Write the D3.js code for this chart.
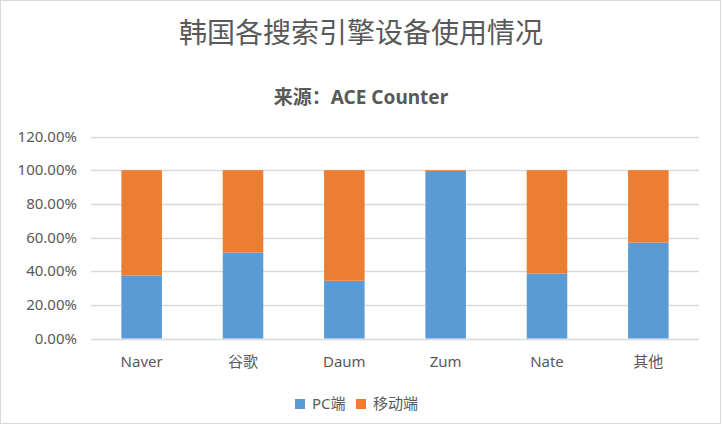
<!DOCTYPE html>
<html>
<head>
<meta charset="utf-8">
<script src="https://cdn.jsdelivr.net/npm/d3@7"></script>
<style>
  body { margin: 0; background: #fff; }
  text { font-family: "Noto Sans", "Noto Sans CJK SC", sans-serif; }
</style>
</head>
<body>
<script>
// data
let categories = ["Naver", "谷歌", "Daum", "Zum", "Nate", "其他"];
let pcValues = [0.374, 0.510, 0.343, 0.996, 0.386, 0.570];
let mobileValues = [0.626, 0.490, 0.657, 0.004, 0.614, 0.430];
let seriesNames = ["PC端", "移动端"];
let yTicks = [0, 0.2, 0.4, 0.6, 0.8, 1.0, 1.2];

let width = 722;
let height = 434;
let colors = ["#5B9BD5", "#ED7D31"];

const svg = d3.select("body")
  .append("svg")
  .attr("width", width)
  .attr("height", height);

// chart frame
svg.append("rect")
  .attr("x", 0.5)
  .attr("y", 0.5)
  .attr("width", 720)
  .attr("height", 423)
  .attr("fill", "#fff")
  .attr("stroke", "#D9D9D9");

svg.append("text")
  .text("韩国各搜索引擎设备使用情况")
  .attr("x", 361)
  .attr("y", 43)
  .attr("text-anchor", "middle")
  .attr("font-size", "28px")
  .attr("font-weight", 400)
  .attr("fill", "#595959")
  .style("font-family", "'Noto Sans CJK SC', sans-serif");

svg.append("text")
  .text("来源：ACE Counter")
  .attr("x", 361)
  .attr("y", 104)
  .attr("text-anchor", "middle")
  .attr("font-size", "19px")
  .attr("font-weight", "bold")
  .attr("fill", "#595959");

let x = d3.scaleBand()
  .domain(categories)
  .range([91, 699])
  .paddingInner(0.6)
  .paddingOuter(0.3);

let y = d3.scaleLinear()
  .domain([0, 1.2])
  .range([338.5, 136.5]);

// gridlines
svg.selectAll("line.grid")
  .data(yTicks)
  .enter()
  .append("line")
  .attr("class", "grid")
  .attr("x1", 91)
  .attr("x2", 699)
  .attr("y1", function(d) { return Math.round(y(d)) + 0.5; })
  .attr("y2", function(d) { return Math.round(y(d)) + 0.5; })
  .attr("stroke", "#D9D9D9")
  .attr("stroke-width", 1.3);

// y axis labels
svg.selectAll("text.ytick")
  .data(yTicks)
  .enter()
  .append("text")
  .attr("class", "ytick")
  .text(function(d) { return (d * 100).toFixed(2) + "%"; })
  .attr("x", 77)
  .attr("y", function(d) { return y(d) + 5; })
  .attr("text-anchor", "end")
  .attr("font-size", "15px")
  .attr("fill", "#595959");

let stackData = categories.map(function(c, i) {
  return { cat: c, pc: pcValues[i], mobile: mobileValues[i] };
});
let stacked = d3.stack().keys(["pc", "mobile"])(stackData);

svg.selectAll("g.series")
  .data(stacked)
  .enter()
  .append("g")
  .attr("class", "series")
  .attr("fill", function(d, i) { return colors[i]; })
  .selectAll("rect")
  .data(function(d) { return d; })
  .enter()
  .append("rect")
  .attr("x", function(d) { return x(d.data.cat); })
  .attr("width", x.bandwidth())
  .attr("y", function(d) { return y(d[1]); })
  .attr("height", function(d) { return y(d[0]) - y(d[1]); });

// x axis labels
svg.selectAll("text.xtick")
  .data(categories)
  .enter()
  .append("text")
  .attr("class", "xtick")
  .text(function(d) { return d; })
  .attr("x", function(d) { return x(d) + x.bandwidth() / 2; })
  .attr("y", 367)
  .attr("text-anchor", "middle")
  .attr("font-size", "15px")
  .attr("fill", "#595959");

// legend
let legendX = [295, 356];
let legend = svg.selectAll("g.legend")
  .data(seriesNames)
  .enter()
  .append("g")
  .attr("class", "legend")
  .attr("transform", function(d, i) { return "translate(" + legendX[i] + ",399)"; });

legend.append("rect")
  .attr("width", 10)
  .attr("height", 10)
  .attr("fill", function(d, i) { return colors[i]; });

legend.append("text")
  .text(function(d) { return d; })
  .attr("x", 17)
  .attr("y", 10)
  .attr("font-size", "15px")
  .attr("fill", "#595959");
</script>
</body>
</html>
